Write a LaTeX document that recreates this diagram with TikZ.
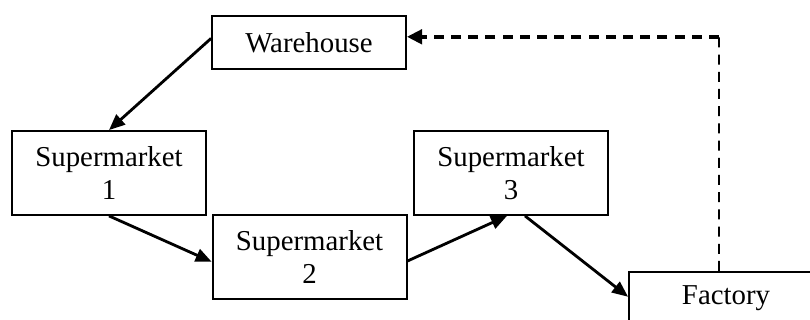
\documentclass[tikz,border=0pt]{standalone}
\usepackage{fontspec}
\setmainfont{Liberation Serif}
\usetikzlibrary{arrows.meta}
\tikzset{
  box/.style={draw, line width=1.3pt, minimum width=4.85cm, align=center, inner sep=0pt, font=\fontsize{20.5}{23}\selectfont},
  twoline/.style={box, minimum height=2.1cm},
  oneline/.style={box, minimum height=1.325cm},
  flow/.style={->, line width=2pt},
  back/.style={dash pattern=on 0.25cm off 0.18cm}
}
\begin{document}
\begin{tikzpicture}[>={Triangle[length=4mm,width=3.3mm]}]
\useasboundingbox (0,0) rectangle (20.25,8);
% caselle
\node[oneline] (wh) at (7.725,6.94) {Warehouse};
\node[twoline] (s1) at (2.725,3.675) {Supermarket\\1};
\node[twoline] (s2) at (7.74,1.575) {Supermarket\\2};
\node[twoline] (s3) at (12.775,3.675) {Supermarket\\3};
\node[oneline] (fac) at (18.15,0.54) {Factory};

% frecce del giro
\draw[flow] ([yshift=0.1cm]wh.west) -- (s1.north);
\draw[flow] (s1.south) -- ([yshift=-0.12cm]s2.west);
\draw[flow] ([yshift=-0.1cm]s2.east) -- ([xshift=-0.1cm]s3.south);
\draw[flow] ([xshift=0.35cm]s3.south) -- ([yshift=0.04cm]fac.west);

% ritorno tratteggiato
\coordinate (corner) at (17.975,7.08);
\draw[back, line width=1.2pt] ([xshift=-0.175cm]fac.north) -- (corner);
\draw[back, -{Triangle[length=3.8mm,width=3.6mm]}, line width=2.6pt] (corner) -- (wh.east |- corner);
\end{tikzpicture}
\end{document}
